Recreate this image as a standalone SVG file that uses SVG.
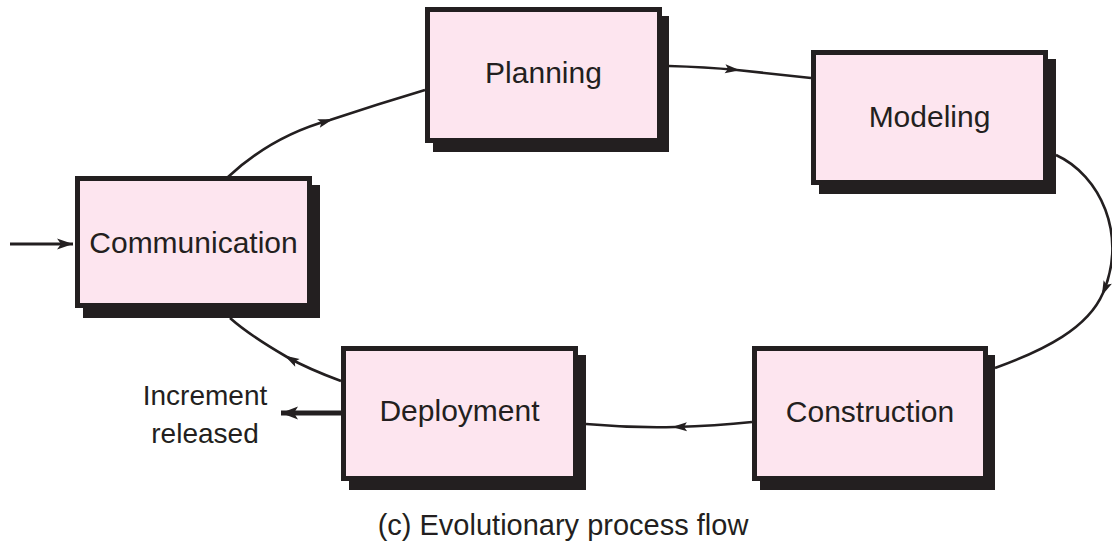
<svg xmlns="http://www.w3.org/2000/svg" width="1112" height="547" viewBox="0 0 1112 547">
  <style>
    .shadow { fill: #231f20; }
    .box { fill: #fde5ef; stroke: #231f20; stroke-width: 5; }
    .label { font-family: "Liberation Sans", Arial, sans-serif; font-size: 30px; fill: #231f20; text-anchor: middle; }
    .small { font-family: "Liberation Sans", Arial, sans-serif; font-size: 28px; fill: #231f20; text-anchor: middle; }
    .caption { font-family: "Liberation Sans", Arial, sans-serif; font-size: 29px; fill: #231f20; text-anchor: middle; }
    .flow { fill: none; stroke: #231f20; stroke-width: 2.6; marker-mid: url(#mid); }
    .thick { fill: none; stroke: #231f20; }
  </style>
  <defs>
    <marker id="mid" markerUnits="userSpaceOnUse" markerWidth="20" markerHeight="16" viewBox="-16 -8 20 16" refX="0" refY="0" orient="auto">
      <path d="M3,0 L-12,-4.5 L-9,0 L-12,4.5 Z" fill="#231f20"/>
    </marker>
    <marker id="endArrow" markerUnits="userSpaceOnUse" markerWidth="22" markerHeight="16" viewBox="-18 -8 20 16" refX="0" refY="0" orient="auto">
      <path d="M0,0 L-16,-5.5 L-12,0 L-16,5.5 Z" fill="#231f20"/>
    </marker>
    <marker id="endArrowBig" markerUnits="userSpaceOnUse" markerWidth="22" markerHeight="18" viewBox="-18 -9 20 18" refX="0" refY="0" orient="auto">
      <path d="M0,0 L-17,-6.5 L-13,0 L-17,6.5 Z" fill="#231f20"/>
    </marker>
  </defs>

  <g id="connectors">
    <path class="thick" d="M10,244 L73,244" stroke-width="3" marker-end="url(#endArrow)"/>
    <path class="flow" d="M228,177 Q272,136 330,120 Q378,104 425,90"/>
    <path class="flow" d="M669,66 Q705,67 737,70 Q775,74 811,78"/>
    <path class="flow" d="M1056,155 C1100,175 1128,235 1103,293 C1088,328 1045,350 995,368"/>
    <path class="flow" d="M752,422 Q715,426 675,427 Q630,428 586,424"/>
    <path class="flow" d="M341,381 C322,374 303,366 287,357 C268,346 248,334 230,318"/>
    <path class="thick" d="M341,413 L281,413" stroke-width="5" marker-end="url(#endArrowBig)"/>
  </g>

  <g id="node-communication">
    <rect class="shadow" x="83" y="185" width="237" height="133"/>
    <rect class="box" x="77.5" y="178.5" width="232" height="127"/>
    <text class="label" x="193.5" y="253">Communication</text>
  </g>

  <g id="node-planning">
    <rect class="shadow" x="433" y="16" width="236" height="136"/>
    <rect class="box" x="427.5" y="9.5" width="232" height="131"/>
    <text class="label" x="543.5" y="83">Planning</text>
  </g>

  <g id="node-modeling">
    <rect class="shadow" x="819" y="59" width="237" height="135"/>
    <rect class="box" x="813.5" y="52.5" width="232" height="130"/>
    <text class="label" x="929.5" y="127">Modeling</text>
  </g>

  <g id="node-deployment">
    <rect class="shadow" x="349" y="355" width="237" height="135"/>
    <rect class="box" x="343.5" y="348.5" width="232" height="130"/>
    <text class="label" x="459.5" y="421">Deployment</text>
  </g>

  <g id="node-construction">
    <rect class="shadow" x="760" y="355" width="235" height="135"/>
    <rect class="box" x="754.5" y="348.5" width="231" height="130"/>
    <text class="label" x="870" y="422">Construction</text>
  </g>

  <g id="label-increment">
    <text class="small" x="205" y="405">Increment</text>
    <text class="small" x="205" y="443">released</text>
  </g>

  <g id="caption">
    <text class="caption" x="563" y="535">(c) Evolutionary process flow</text>
  </g>
</svg>
